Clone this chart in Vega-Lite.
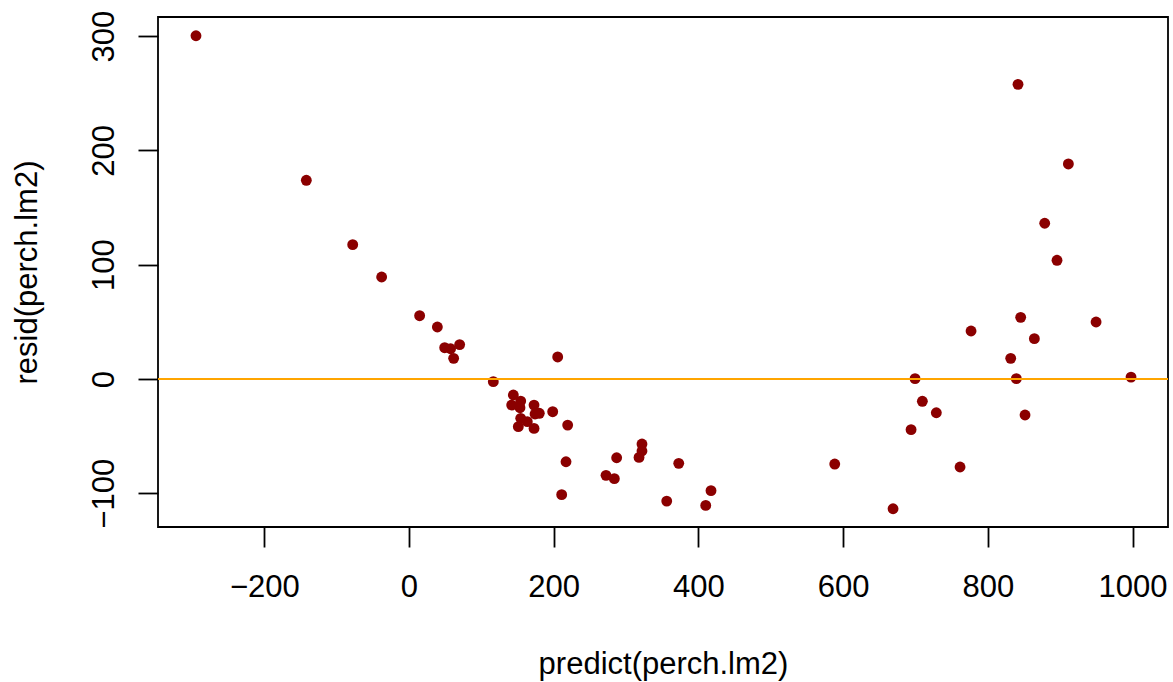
{
  "$schema": "https://vega.github.io/schema/vega-lite/v6.json",
  "width": 1010,
  "height": 510,
  "autosize": {"type": "none"},
  "padding": {"left": 158, "top": 17, "right": 5, "bottom": 155},
  "background": "white",
  "config": {
    "view": {"stroke": "black", "strokeWidth": 1.8},
    "font": "Liberation Sans"
  },
  "data": {
    "values": [
      {"predict": -294.4, "resid": 300.4},
      {"predict": -141.9, "resid": 173.9},
      {"predict": -77.8, "resid": 117.6},
      {"predict": -37.8, "resid": 89.3},
      {"predict": 14.7, "resid": 55.4},
      {"predict": 39.2, "resid": 45.5},
      {"predict": 49.3, "resid": 27.4},
      {"predict": 57.5, "resid": 26.5},
      {"predict": 61.7, "resid": 18.1},
      {"predict": 70.0, "resid": 30.1},
      {"predict": 205.5, "resid": 19.3},
      {"predict": 116.5, "resid": -2.3},
      {"predict": 144.2, "resid": -14.0},
      {"predict": 141.9, "resid": -22.8},
      {"predict": 154.4, "resid": -19.3},
      {"predict": 153.4, "resid": -25.1},
      {"predict": 172.8, "resid": -22.8},
      {"predict": 180.1, "resid": -30.0},
      {"predict": 174.2, "resid": -30.6},
      {"predict": 198.6, "resid": -28.6},
      {"predict": 154.4, "resid": -34.4},
      {"predict": 163.5, "resid": -37.3},
      {"predict": 151.1, "resid": -41.7},
      {"predict": 172.8, "resid": -43.2},
      {"predict": 219.3, "resid": -40.3},
      {"predict": 217.0, "resid": -72.4},
      {"predict": 211.0, "resid": -101.2},
      {"predict": 287.0, "resid": -68.9},
      {"predict": 272.3, "resid": -84.3},
      {"predict": 283.8, "resid": -87.2},
      {"predict": 322.0, "resid": -56.9},
      {"predict": 322.0, "resid": -63.0},
      {"predict": 317.9, "resid": -68.6},
      {"predict": 356.2, "resid": -106.8},
      {"predict": 372.8, "resid": -73.8},
      {"predict": 417.4, "resid": -97.7},
      {"predict": 410.1, "resid": -110.6},
      {"predict": 699.4, "resid": 0.3},
      {"predict": 709.5, "resid": -19.5},
      {"predict": 728.8, "resid": -29.5},
      {"predict": 693.9, "resid": -44.3},
      {"predict": 588.4, "resid": -74.4},
      {"predict": 761.6, "resid": -77.0},
      {"predict": 669.0, "resid": -113.5},
      {"predict": 841.7, "resid": 257.9},
      {"predict": 911.3, "resid": 188.2},
      {"predict": 878.6, "resid": 136.3},
      {"predict": 895.6, "resid": 103.9},
      {"predict": 845.4, "resid": 54.0},
      {"predict": 949.6, "resid": 49.9},
      {"predict": 864.3, "resid": 35.3},
      {"predict": 831.6, "resid": 18.1},
      {"predict": 839.4, "resid": 0.3},
      {"predict": 997.9, "resid": 1.7},
      {"predict": 776.8, "resid": 42.0},
      {"predict": 851.4, "resid": -31.5}
    ]
  },
  "layer": [
    {
      "mark": {"type": "circle", "color": "#8B0000", "size": 118, "opacity": 1},
      "encoding": {
        "x": {
          "field": "predict",
          "type": "quantitative",
          "scale": {"domain": [-346.9, 1049], "nice": false, "zero": false},
          "axis": {
            "values": [-200, 0, 200, 400, 600, 800, 1000],
            "format": "d",
            "domain": false,
            "grid": false,
            "ticks": true,
            "tickSize": 20,
            "tickWidth": 1.8,
            "tickColor": "black",
            "labelFont": "Liberation Sans",
            "labelFontSize": 31,
            "labelColor": "black",
            "labelPadding": 49,
            "labelBaseline": "alphabetic",
            "labelAlign": "center",
            "labelFlush": false,
            "labelOverlap": false,
            "title": "predict(perch.lm2)",
            "titleFont": "Liberation Sans",
            "titleFontSize": 31,
            "titleFontWeight": "normal",
            "titleColor": "black",
            "titleX": 505,
            "titleY": 146,
            "titleAlign": "center",
            "titleBaseline": "alphabetic"
          }
        },
        "y": {
          "field": "resid",
          "type": "quantitative",
          "scale": {"domain": [-129.5, 316.8], "nice": false, "zero": false},
          "axis": {
            "values": [-100, 0, 100, 200, 300],
            "format": "d",
            "domain": false,
            "grid": false,
            "ticks": true,
            "tickSize": 20,
            "tickWidth": 1.8,
            "tickColor": "black",
            "labelFont": "Liberation Sans",
            "labelFontSize": 31,
            "labelColor": "black",
            "labelAngle": -90,
            "labelAlign": "center",
            "labelBaseline": "alphabetic",
            "labelPadding": 25,
            "labelFlush": false,
            "labelOverlap": false,
            "title": "resid(perch.lm2)",
            "titleFont": "Liberation Sans",
            "titleFontSize": 31,
            "titleFontWeight": "normal",
            "titleColor": "black",
            "titleAngle": -90,
            "titleX": -122,
            "titleY": 255,
            "titleAlign": "center",
            "titleBaseline": "alphabetic"
          }
        }
      }
    },
    {
      "mark": {"type": "rule", "color": "#FFA500", "strokeWidth": 1.8},
      "encoding": {"y": {"datum": 0}}
    }
  ]
}
